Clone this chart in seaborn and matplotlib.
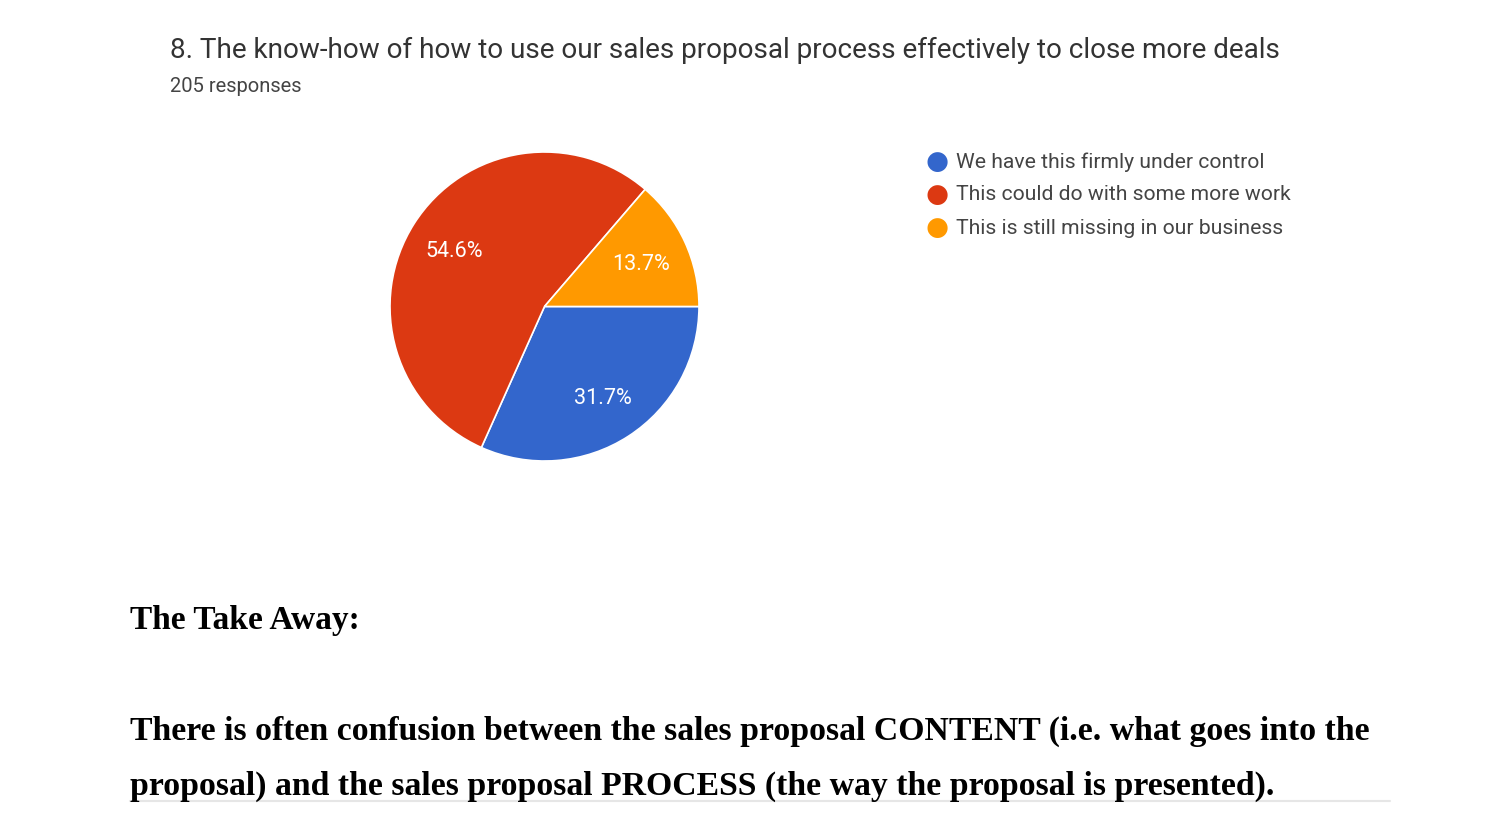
import matplotlib
matplotlib.use("Agg")
import matplotlib.pyplot as plt
import seaborn as sns

# survey answers, in drawing order (clockwise from 3 o'clock)
answers = ["We have this firmly under control",
           "This could do with some more work",
           "This is still missing in our business"]
shares = [31.7, 54.6, 13.7]
colors = ["#3366CC", "#DC3912", "#FF9900"]

title = "8. The know-how of how to use our sales proposal process effectively to close more deals"
subtitle = "205 responses"
takeaway_head = "The Take Away:"
takeaway_lines = ["There is often confusion between the sales proposal CONTENT (i.e. what goes into the",
                  "proposal) and the sales proposal PROCESS (the way the proposal is presented)."]

sns.set_theme(style="white")
plt.rcParams['font.family'] = ['Roboto', 'DejaVu Sans']

fig = plt.figure(figsize=(15, 8.25), dpi=100)
fig.patch.set_facecolor("white")

# pie axes: centre ~(544, 307) px, radius ~154 px
cx, cy, r = 544.5 / 1500, 1 - 306.5 / 825, 154.5
ax = fig.add_axes([cx - r / 1500, cy - r / 825, 2 * r / 1500, 2 * r / 825])
pal = sns.color_palette(colors)
wedges, _, autotexts = ax.pie(shares, colors=pal, startangle=0, counterclock=False,
                              autopct="%.1f%%", pctdistance=0.69,
                              wedgeprops=dict(edgecolor="white", linewidth=1.2),
                              textprops=dict(color="white", fontsize=15.5))
for t in autotexts:
    t.set_va("center_baseline")
ax.set_xlim(-1.0, 1.0)
ax.set_ylim(-1.0, 1.0)
ax.set_aspect("equal")
ax.axis("off")

# header
fig.text(170 / 1500, 1 - 50 / 825, title, fontsize=20.1, color="#333333", va="center")
fig.text(170 / 1500, 1 - 86 / 825, subtitle, fontsize=14.5, color="#444444", va="center")

# legend drawn by hand, matching the google-forms look
for i, (lab, col) in enumerate(zip(answers, colors)):
    y = 1 - (162 + 33 * i) / 825
    fig.text(937 / 1500, y, "\u25CF", color=col, fontsize=19, ha="center", va="center",
             family=["DejaVu Sans"])
    fig.text(956 / 1500, y, lab, fontsize=15.2, color="#444444", va="center")

# take away text
serif = ["Liberation Serif", "DejaVu Serif"]
fig.text(130 / 1500, 1 - 620 / 825, takeaway_head, fontsize=24, fontweight="bold",
         color="black", va="center", family=serif)
for i, line in enumerate(takeaway_lines):
    fig.text(130 / 1500, 1 - (731 + 55 * i) / 825, line, fontsize=24.3, fontweight="bold",
             color="black", va="center", family=serif)

fig.add_artist(plt.Line2D([130 / 1500, 1390 / 1500], [1 - 801 / 825] * 2,
                          color="#e6e6e6", linewidth=1.5))

fig.savefig("out.png", dpi=100, facecolor="white")
